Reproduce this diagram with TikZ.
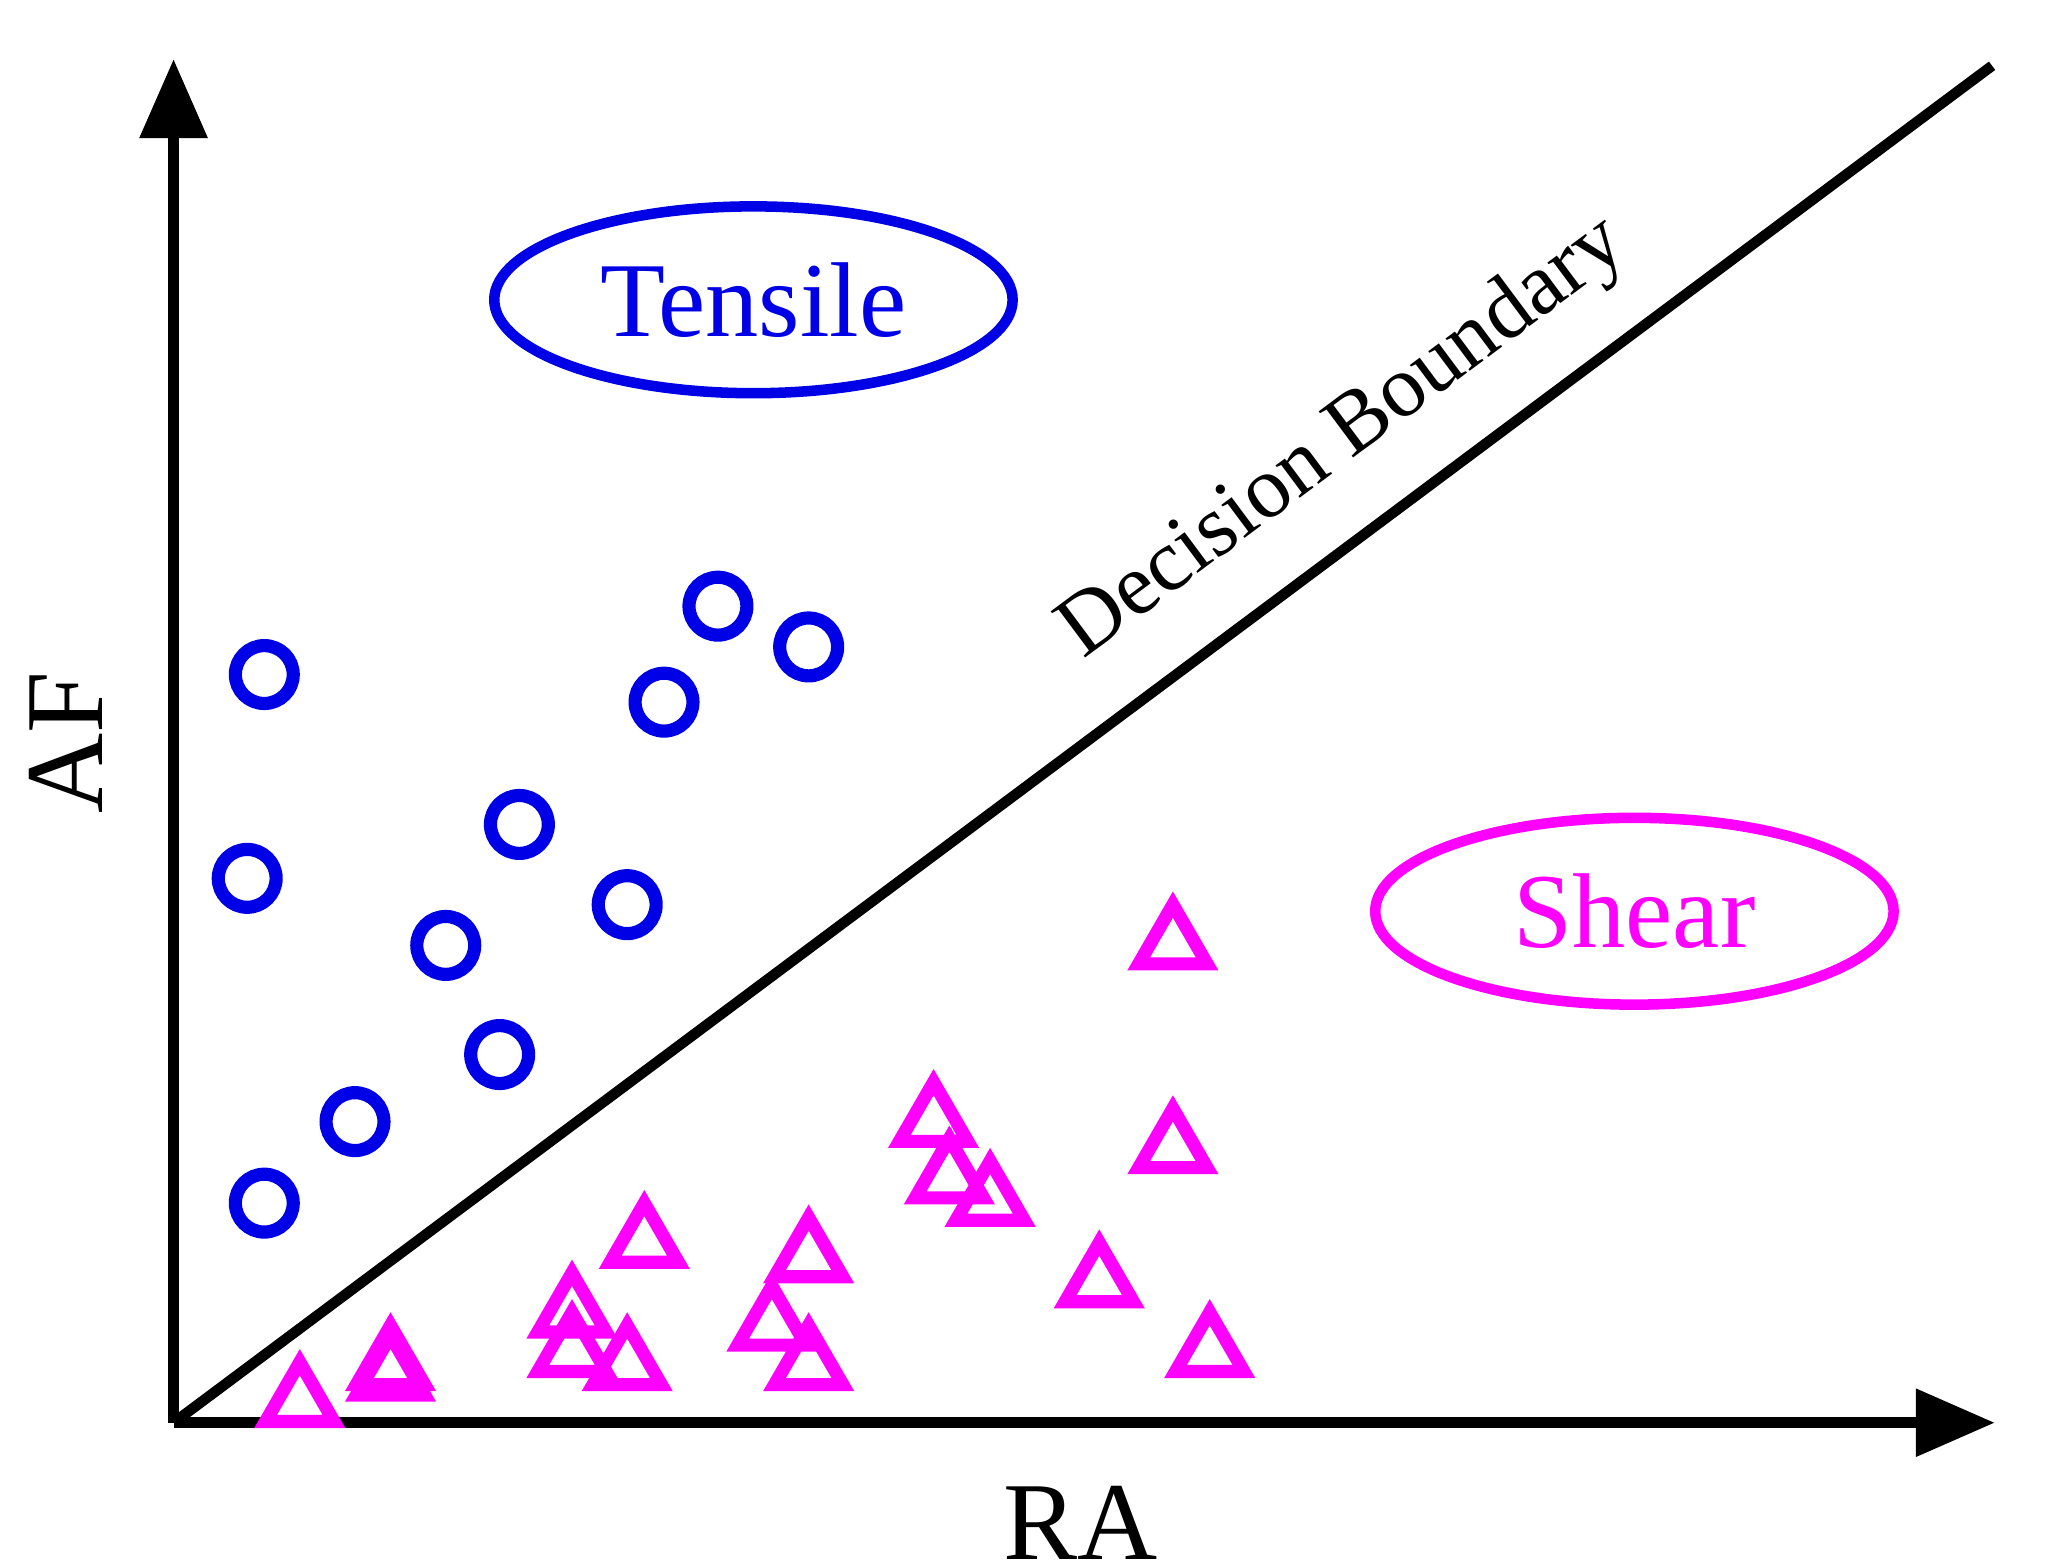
\documentclass[tikz,border=0pt]{standalone}
\usepackage{fontspec}
\setmainfont{Liberation Serif}
\usetikzlibrary{shapes.geometric,arrows.meta,positioning}
\definecolor{tensileblue}{RGB}{0,0,230}
\definecolor{shearpink}{RGB}{255,0,255}

\begin{document}
\begin{tikzpicture}[x=0.01cm,y=-0.01cm]
    % Define styles
    \tikzset{
        axis/.style={line width=0.08cm,-{Triangle[length=0.6cm,width=0.5cm]}},
        tpoint/.style={circle, draw=tensileblue, line width=0.1cm, minimum size=0.44cm, inner sep=0pt},
        spoint/.style={regular polygon, regular polygon sides=3, draw=shearpink, line width=0.1cm, minimum size=0.6cm, inner sep=0pt},
        region/.style={ellipse, line width=0.08cm, minimum width=3.94cm, minimum height=1.42cm, inner sep=0pt, font=\fontsize{23}{25}\selectfont}
    }
    \useasboundingbox (0,0) rectangle (1556,1191);

    % Axes
    \coordinate (origin) at (132,1082);
    \coordinate (ytop) at (132,45);
    \coordinate (xend) at (1517,1082);
    \coordinate (bend) at (1515,50);
    \draw[axis] (origin) -- (ytop);
    \draw[axis] (origin) -- (xend);
    \draw[line width=0.08cm] (origin) -- (bend);

    % Labels
    \node[font=\fontsize{24}{26}\selectfont] (ra) at (822,1158) {RA};
    \node[font=\fontsize{24}{26}\selectfont, rotate=90] (af) at (50,565) {AF};
    \node[font=\fontsize{19}{21}\selectfont, rotate=36.7] (boundary) at (1022,334) {Decision Boundary};

    % Regions
    \node[region, draw=tensileblue, text=tensileblue] (tensile) at (573,228) {Tensile};
    \node[region, draw=shearpink, text=shearpink] (shear) at (1243,693) {Shear};

    % Tensile points
    \foreach \x/\y [count=\i] in {201/513, 188/668, 395/627, 339/719, 477/688, 380/802,
        270/853, 201/915, 505/534, 546/461, 615/492}
        \node[tpoint] (t\i) at (\x,\y) {};

    % Shear points
    \foreach \x/\y [count=\i] in {892/718, 710/853, 892/873, 722/896, 753/913, 490/945,
        615/956, 435/998, 587/1008, 836/975, 920/1028, 435/1028, 477/1038, 615/1038,
        297/1038, 297/1046, 228/1066}
        \node[spoint] (s\i) at (\x,\y) {};

\end{tikzpicture}
\end{document}
